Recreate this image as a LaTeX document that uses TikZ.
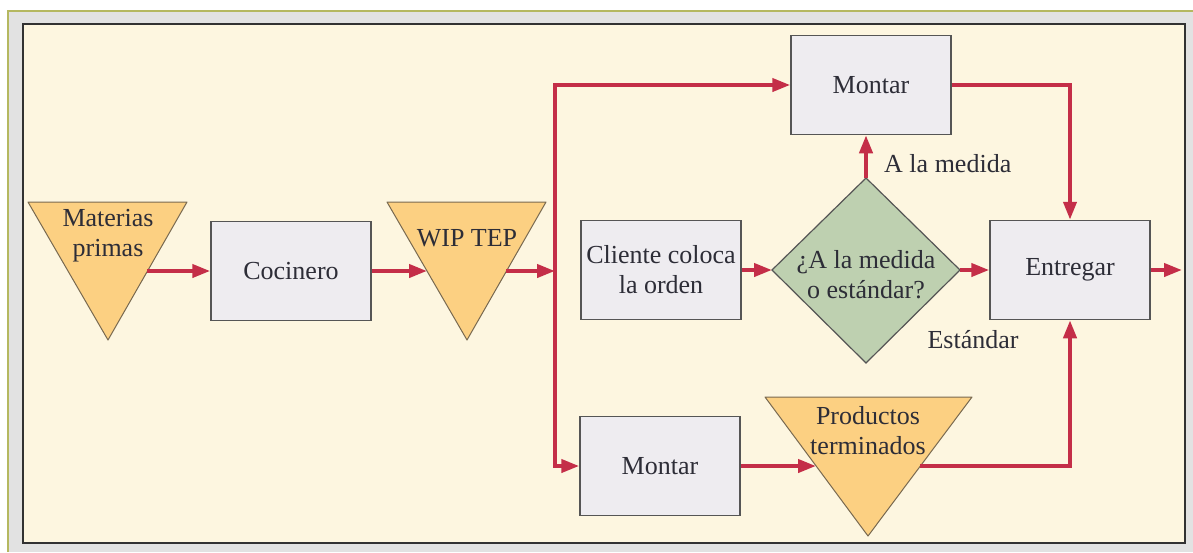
\documentclass[tikz,border=0pt]{standalone}
\usepackage{fontspec}
\setmainfont{Liberation Serif}
\usetikzlibrary{arrows.meta}
\definecolor{arrred}{RGB}{196,46,72}
\definecolor{trifill}{RGB}{252,208,130}
\definecolor{tridraw}{RGB}{120,105,80}
\definecolor{boxfill}{RGB}{238,236,240}
\definecolor{boxdraw}{RGB}{85,85,85}
\definecolor{diafill}{RGB}{190,208,176}
\definecolor{cream}{RGB}{253,246,224}
\definecolor{olive}{RGB}{181,184,96}
\definecolor{band}{RGB}{226,226,226}
\definecolor{frame}{RGB}{50,50,50}
\definecolor{txt}{RGB}{45,45,55}
\begin{document}
\begin{tikzpicture}[x=1pt,y=-1pt,
  every node/.style={font=\fontsize{26}{30}\selectfont, text=txt},
  box/.style={draw=boxdraw, fill=boxfill, line width=1.5pt, minimum width=160pt, minimum height=99pt, align=center, inner sep=0pt},
  tri/.style={draw=tridraw, fill=trifill, line width=1pt, line join=round},
  dia/.style={draw=boxdraw, fill=diafill, line width=1.2pt, line join=miter},
  lbl/.style={align=center, inner sep=0pt},
  arr/.style={draw=arrred, line width=4pt, line join=miter, -{Triangle[length=18pt,width=13pt]}}
]
\useasboundingbox (0,0) rectangle (1193,552);
\fill[white] (0,0) rectangle (1193,552);
\fill[band] (8,11) rectangle (1193,552);
\draw[olive, line width=2pt] (1193,11) -- (8,11) -- (8,552);
\draw[fill=cream, draw=frame, line width=2.2pt] (23,24) rectangle (1185,543);

% triangles
\draw[tri] (28,202) -- (187,202) -- (108,340) -- cycle;
\draw[tri] (387,202) -- (546,202) -- (467,340) -- cycle;
\draw[tri] (765,397) -- (972,397) -- (868,536) -- cycle;
\node[lbl] (mp) at (108,236) {Materias\\primas};
\node[lbl] (wip) at (467,238) {WIP TEP};
\node[lbl] (pt) at (868,431) {Productos\\terminados};

% diamond
\draw[dia] (772,270) -- (866,178) -- (960,270) -- (866,363) -- cycle;
\node[lbl] (dq) at (866,275) {¿A la medida\\o estándar?};

% boxes
\node[box] (cook) at (291,271) {Cocinero};
\node[box] (client) at (661,270) {Cliente coloca\\la orden};
\node[box] (mtop) at (871,85) {Montar};
\node[box] (mbot) at (660,466) {Montar};
\node[box] (deliver) at (1070,270) {Entregar};

% coordinates
\coordinate (mpR) at (147,271);
\coordinate (wipL) at (427,271);
\coordinate (wipR) at (506,271);
\coordinate (split) at (555,271);
\coordinate (ptL) at (816,466);
\coordinate (ptR) at (920,466);
\coordinate (dL) at (772,270);
\coordinate (dR) at (960,270);
\coordinate (dT) at (866,178);
\coordinate (out) at (1182,270);

% labels
\node[lbl, anchor=west] (alm) at (884,164) {A la medida};
\node[lbl] (est) at (973,340) {Estándar};

% connectors
\draw[arr] (mpR) -- (cook.west);
\draw[arr] (cook.east) -- (wipL);
\draw[arr] (wipR) -- (split);
\draw[arr] (split) |- (mtop.west);
\draw[arr] (split) |- (mbot.west);
\draw[arr] (client.east) -- (dL);
\draw[arr] (dT) -- (dT |- mtop.south);
\draw[arr] (dR) -- (deliver.west);
\draw[arr] (mtop.east) -| (deliver.north);
\draw[arr] (mbot.east) -- (ptL);
\draw[arr] (ptR) -| (deliver.south);
\draw[arr] (deliver.east) -- (out);
\end{tikzpicture}
\end{document}
